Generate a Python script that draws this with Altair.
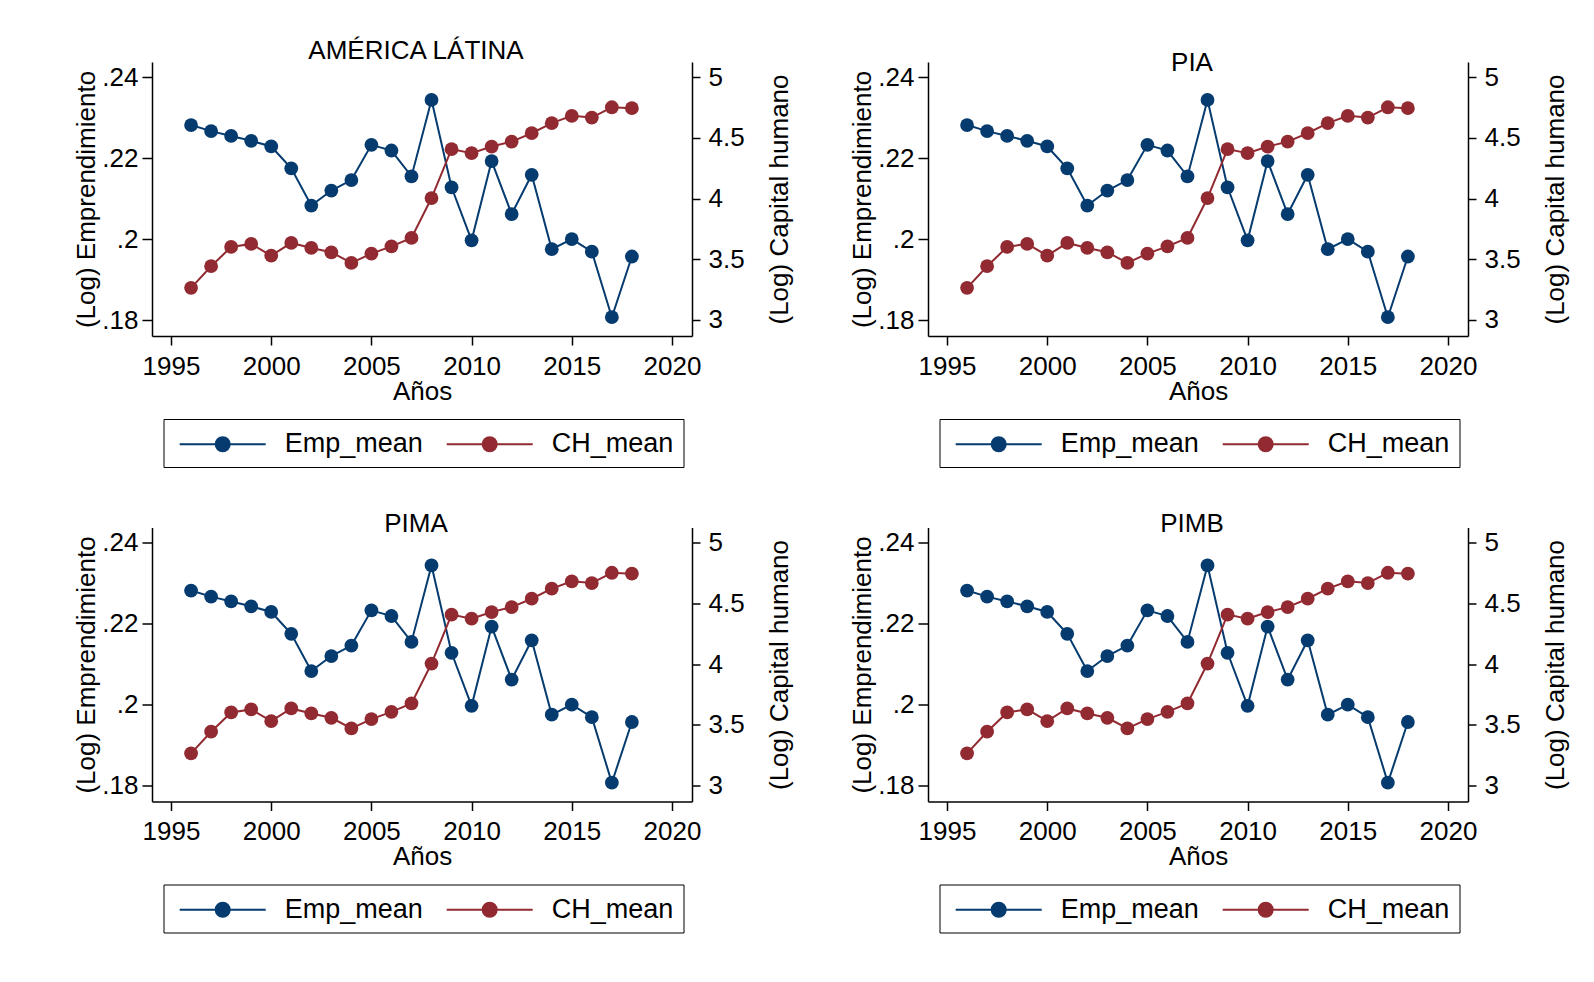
import altair as alt
import pandas as pd

# ---------------- data ----------------
years = list(range(1996, 2019))
emp_mean = [0.2282, 0.2267, 0.2255, 0.2243, 0.2229, 0.2175, 0.2083, 0.2120,
            0.2146, 0.2233, 0.2219, 0.2155, 0.2344, 0.2128, 0.1997, 0.2193,
            0.2062, 0.2159, 0.1975, 0.2000, 0.1969, 0.1807, 0.1957]
ch_mean = [3.265, 3.443, 3.602, 3.627, 3.530, 3.635, 3.594, 3.558,
           3.470, 3.547, 3.607, 3.676, 4.005, 4.408, 4.375, 4.429,
           4.470, 4.539, 4.622, 4.682, 4.668, 4.753, 4.745]
series_names = ["Emp_mean", "CH_mean"]
panel_titles = ["AMÉRICA LÁTINA", "PIA", "PIMA", "PIMB"]
x_ticks = [1995, 2000, 2005, 2010, 2015, 2020]
left_ticks = [0.18, 0.20, 0.22, 0.24]
right_ticks = [3, 3.5, 4, 4.5, 5]

# ---------------- styling ----------------
FONT = "Liberation Sans"
BLUE = "#053b6e"
RED = "#922a31"
W, H = 540, 274
# legend symbol: a long line with a dot in the middle
LEG_PATH = ("M-3,0L3,0M-0.49,0A0.49,0.49,0,1,0,0.49,0"
            "A0.49,0.49,0,1,0,-0.49,0Z")

emp_df = pd.DataFrame({"year": years, "value": emp_mean,
                       "series": [series_names[0]] * len(years)})
ch_df = pd.DataFrame({"year": years, "value": ch_mean,
                      "series": [series_names[1]] * len(years)})


def make_legend():
    return alt.Legend(
        orient="none", legendX=11.5, legendY=357, direction="horizontal",
        title=None, symbolType=LEG_PATH, symbolSize=822, symbolStrokeWidth=2,
        symbolOffset=34.2,
        labelFont=FONT, labelFontSize=27, labelColor="black", labelOffset=46.6,
        columnPadding=17, padding=9.5, strokeColor="black",
    )


def panel(title_text, title_offset, line_height):
    color_scale = alt.Scale(domain=series_names, range=[BLUE, RED])
    x_enc = alt.X(
        "year:Q",
        scale=alt.Scale(domain=[1994.05, 2021], nice=False, zero=False),
        axis=alt.Axis(values=x_ticks, format="d", title="Años",
                      tickSize=9, labelPadding=8, titlePadding=-1),
    )
    y_left = alt.Y(
        "value:Q",
        scale=alt.Scale(domain=[0.17605, 0.24378], nice=False, zero=False),
        axis=alt.Axis(values=left_ticks, orient="left",
                      labelExpr="replace(format(datum.value, '.2~f'), '0.', '.')",
                      title="(Log) Emprendimiento", tickSize=10, labelPadding=4,
                      titleX=-65.5, titleY=H / 2, titleBaseline="middle",
                      titleAngle=270, titleAlign="center"),
    )
    y_right = alt.Y(
        "value:Q",
        scale=alt.Scale(domain=[2.868, 5.126], nice=False, zero=False),
        axis=alt.Axis(values=right_ticks, orient="right", format=".1~f",
                      title="(Log) Capital humano", tickSize=8, labelPadding=8,
                      titleX=87.5, titleY=H / 2, titleBaseline="middle",
                      titleAngle=270, titleAlign="center"),
    )

    def series_layer(df, y_enc):
        line = alt.Chart(df).mark_line(strokeWidth=2).encode(
            x=x_enc, y=y_enc,
            stroke=alt.Stroke("series:N", scale=color_scale, legend=make_legend()),
        )
        pts = alt.Chart(df).mark_point(filled=True, opacity=1, size=190,
                                       strokeWidth=0).encode(
            x=x_enc, y=y_enc,
            fill=alt.Fill("series:N", scale=color_scale, legend=make_legend()),
        )
        return alt.layer(line, pts)

    return alt.layer(
        series_layer(emp_df, y_left),
        series_layer(ch_df, y_right),
    ).resolve_scale(y="independent").properties(
        width=W, height=H,
        title=alt.TitleParams(
            text=title_text, font=FONT, fontSize=26, fontWeight="normal",
            color="black", anchor="middle", frame="group",
            offset=title_offset, lineHeight=line_height, dx=-6,
        ),
    )


p1 = panel([panel_titles[0], " "], -14, 12)
p2 = panel([panel_titles[1]], -14, 12)
p3 = panel([panel_titles[2]], -9.5, 12)
p4 = panel([panel_titles[3]], -9.5, 12)

chart = alt.concat(
    p1, p2, p3, p4, columns=2, spacing={"row": 42.5, "column": 56}
).resolve_scale(
    stroke="independent", fill="independent"
).resolve_legend(
    stroke="independent", fill="independent"
).properties(
    padding={"left": 65, "top": 30, "right": 5, "bottom": 5}
).configure_view(
    stroke=None
).configure_axis(
    labelFont=FONT, titleFont=FONT, labelFontSize=26, titleFontSize=26,
    labelColor="black", titleColor="black", titleFontWeight="normal",
    grid=False, domainColor="black", tickColor="black",
    domainWidth=1.5, tickWidth=1.5,
)

chart.save("out.html", embed_options={"renderer": "svg", "actions": False})
